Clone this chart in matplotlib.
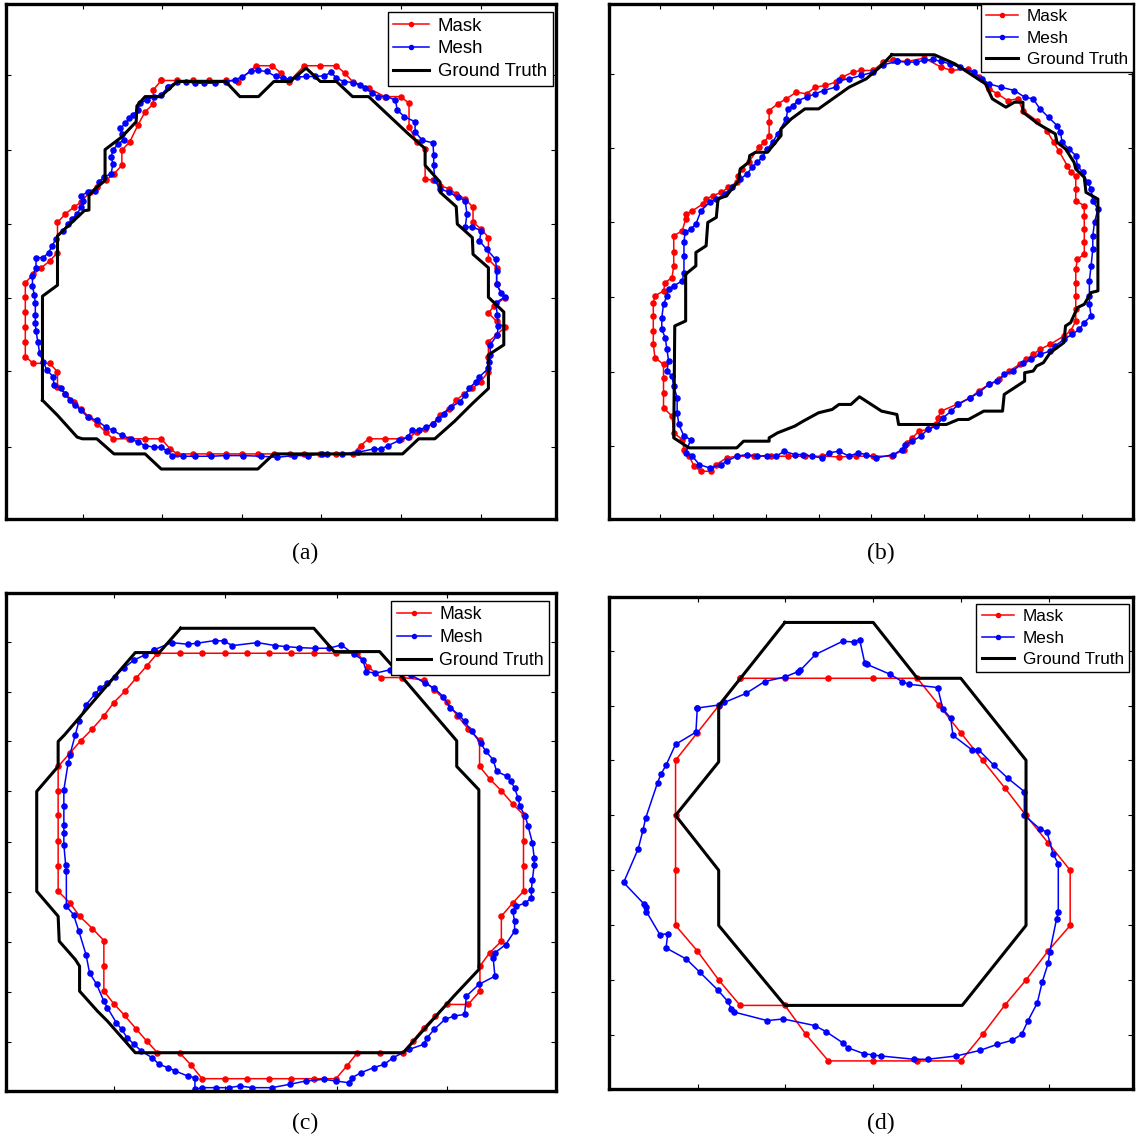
import matplotlib
matplotlib.use("Agg")
import matplotlib.pyplot as plt

# contour points (image units of each panel, y down)
a_mask = [(450,242),(495,242),(540,242),(585,242),(630,242),(665,245),(715,198),(760,198),(785,220),
          (808,245),(850,198),(895,198),(940,198),(963,220),(985,245),(1030,265),(1075,290),(1120,290),
          (1143,310),(1143,380),(1165,425),(1188,445),(1188,535),(1210,540),(1230,555),(1255,565),
          (1275,580),(1300,595),(1322,620),(1322,665),(1345,685),(1365,710),(1365,775),(1388,800),
          (1388,850),(1410,890),(1380,915),(1365,935),(1388,960),(1410,978),(1388,1000),(1365,1020),
          (1365,1065),(1365,1110),(1343,1140),(1320,1160),(1298,1175),(1275,1195),(1255,1220),
          (1230,1240),(1210,1265),(1188,1280),(1165,1290),(1143,1305),(1120,1310),(1075,1310),
          (1030,1310),(1008,1330),(985,1355),(940,1355),(895,1355),(850,1355),(810,1355),(765,1355),
          (720,1355),(675,1355),(630,1355),(585,1355),(540,1355),(495,1355),(475,1340),(450,1310),
          (405,1310),(360,1310),(315,1310),(295,1290),(270,1265),(248,1245),(225,1220),(205,1200),
          (182,1175),(160,1155),(160,1110),(138,1085),(92,1085),(70,1065),(70,1020),(70,978),(70,933),
          (70,888),(70,845),(92,820),(115,800),(138,780),(160,755),(160,665),(182,640),(205,620),
          (225,605),(250,575),(270,560),(295,540),(318,520),(340,495),(340,450),(362,425),(385,375),
          (405,335),(428,312),(428,270)]
a_mesh = [(470,260),(495,245),(520,245),(545,250),(570,250),(600,250),(630,245),(655,240),(675,232),
          (700,215),(720,212),(745,215),(770,230),(790,235),(810,238),(830,232),(855,230),(880,230),
          (905,228),(925,218),(940,235),(960,245),(985,248),(1005,255),(1020,265),(1040,278),(1055,290),
          (1080,290),(1105,300),(1110,330),(1130,350),(1160,365),(1160,395),(1180,420),(1210,428),
          (1212,465),(1212,495),(1215,540),(1230,565),(1255,575),(1280,590),(1300,600),(1305,640),
          (1300,680),(1320,678),(1345,690),(1340,720),(1360,745),(1385,775),(1388,810),(1388,850),
          (1400,875),(1410,888),(1385,905),(1390,940),(1392,975),(1390,1000),(1370,1030),(1370,1060),
          (1368,1080),(1365,1100),(1340,1125),(1330,1140),(1310,1160),(1300,1180),(1285,1200),
          (1260,1215),(1240,1235),(1225,1250),(1210,1265),(1190,1275),(1170,1285),(1150,1285),
          (1140,1305),(1115,1315),(1085,1330),(1065,1340),(1045,1340),(1000,1350),(955,1355),
          (915,1355),(900,1355),(860,1360),(820,1360),(775,1365),(730,1362),(680,1360),(630,1360),
          (590,1362),(545,1362),(510,1362),(480,1360),(465,1345),(450,1335),(430,1335),(405,1330),
          (385,1320),(365,1310),(340,1300),(315,1285),(295,1275),(270,1255),(245,1245),(225,1225),
          (210,1210),(195,1195),(180,1175),(170,1160),(150,1150),(148,1125),(130,1105),(120,1080),
          (110,1055),(105,1020),(100,990),(98,965),(98,940),(98,905),(95,880),(90,855),(90,825),
          (100,800),(100,770),(120,770),(135,755),(145,735),(155,715),(175,690),(190,670),(200,655),
          (215,640),(225,620),(230,600),(225,585),(245,575),(265,570),(275,545),(290,530),(310,520),
          (315,490),(310,470),(315,450),(330,430),(345,420),(340,400),(335,385),(350,370),(360,355),
          (370,345),(385,330),(390,310),(410,300),(430,290),(450,285)]
a_truth = [(118,1195),(118,885),(160,852),(160,705),(205,660),(235,630),(248,628),(248,585),(265,565),
           (293,540),(293,448),(340,410),(380,365),(382,318),(405,290),(448,290),(495,245),(630,245),
           (670,290),(722,290),(765,245),(810,245),(855,205),(895,245),(940,245),(985,290),(1030,290),
           (1075,335),(1140,400),(1188,445),(1188,495),(1230,545),(1230,575),(1275,618),(1278,670),
           (1320,710),(1322,760),(1365,800),(1365,888),(1408,932),(1408,1030),(1365,1060),(1365,1160),
           (1320,1205),(1270,1258),(1215,1310),(1170,1310),(1125,1355),(765,1355),(720,1400),
           (450,1400),(405,1355),(318,1355),(270,1310),(230,1310),(215,1305),(160,1240)]

b_mask = [(860,175),(900,178),(950,168),(1000,195),(1030,205),(1080,200),(1110,225),(1140,260),
          (1165,275),(1195,295),(1225,290),(1240,325),(1280,355),(1310,385),(1330,420),(1345,445),
          (1370,490),(1380,510),(1395,520),(1395,560),(1395,595),(1420,610),(1420,640),(1420,680),
          (1420,720),(1420,755),(1400,770),(1395,800),(1395,840),(1395,880),(1395,920),(1395,955),
          (1380,985),(1360,1000),(1320,1025),(1290,1040),(1270,1055),(1250,1070),(1230,1085),
          (1200,1105),(1170,1130),(1140,1145),(1110,1165),(1085,1185),(1045,1205),(1000,1225),
          (990,1245),(985,1265),(960,1280),(935,1285),(915,1305),(900,1320),(890,1340),(855,1360),
          (800,1360),(750,1360),(700,1362),(650,1360),(600,1360),(550,1360),(500,1360),(450,1360),
          (400,1360),(370,1365),(340,1385),(325,1405),(295,1405),(275,1390),(260,1360),(245,1340),
          (240,1310),(215,1290),(210,1240),(185,1215),(185,1170),(185,1125),(185,1085),(160,1065),
          (155,1025),(155,985),(155,940),(155,900),(160,880),(185,865),(190,840),(210,825),(215,790),
          (215,750),(215,700),(240,685),(250,650),(250,635),(270,625),(300,605),(310,590),(330,580),
          (355,570),(375,555),(400,540),(405,520),(415,500),(435,480),(465,435),(480,420),(495,400),
          (495,360),(495,325),(520,305),(545,290),(575,270),(605,275),(630,255),(660,250),(690,240),
          (710,225),(740,210),(765,205),(800,205),(830,180)]
b_mesh = [(870,178),(900,180),(925,180),(950,175),(975,172),(1000,178),(1025,185),(1055,195),
          (1095,210),(1120,230),(1140,245),(1175,255),(1215,265),(1245,285),(1270,290),(1290,320),
          (1315,345),(1340,370),(1350,390),(1355,420),(1375,440),(1395,460),(1400,490),(1415,510),
          (1430,540),(1440,560),(1445,595),(1460,620),(1450,660),(1445,700),(1445,740),(1440,790),
          (1435,835),(1435,880),(1435,905),(1440,940),(1420,960),(1405,980),(1385,995),(1360,1010),
          (1335,1030),(1320,1045),(1290,1055),(1265,1070),(1240,1080),(1210,1105),(1185,1115),
          (1165,1135),(1140,1145),(1110,1170),(1085,1185),(1050,1205),(1030,1225),(1005,1245),
          (985,1270),(960,1280),(940,1300),(915,1315),(895,1325),(885,1340),(860,1355),(810,1365),
          (780,1355),(755,1350),(730,1360),(700,1345),(670,1350),(650,1365),(620,1360),(595,1355),
          (570,1355),(540,1345),(515,1360),(490,1358),(460,1360),(430,1355),(400,1360),(370,1375),
          (355,1385),(320,1395),(290,1385),(270,1360),(250,1350),(265,1310),(245,1300),(230,1265),
          (225,1230),(225,1185),(215,1150),(210,1120),(195,1105),(200,1075),(195,1040),(190,1005),
          (180,980),(180,945),(185,905),(195,880),(200,860),(215,850),(240,835),(245,810),(245,760),
          (245,720),(248,690),(265,680),(280,665),(295,625),(320,600),(340,590),(365,575),(385,555),
          (410,530),(430,515),(445,495),(460,480),(475,465),(490,440),(505,420),(520,395),(545,350),
          (550,320),(565,310),(580,295),(605,285),(630,275),(655,265),(690,255),(700,235),(730,230),
          (765,220),(800,210),(830,188)]
b_truth = [(855,158),(980,158),(1040,185),(1130,245),(1150,290),(1190,315),(1215,300),(1240,300),
           (1240,330),(1285,365),(1335,395),(1340,420),(1365,440),(1390,480),(1395,500),(1420,525),
           (1425,570),(1460,590),(1460,865),(1440,870),(1420,905),(1400,915),(1380,960),(1365,970),
           (1360,1020),(1320,1050),(1300,1080),(1280,1090),(1270,1105),(1245,1110),(1245,1135),
           (1185,1175),(1180,1225),(1125,1225),(1080,1250),(1050,1250),(1015,1265),(875,1265),
           (870,1235),(825,1225),(760,1182),(735,1205),(700,1205),(680,1220),(640,1230),(595,1255),
           (570,1270),(520,1290),(495,1305),(495,1315),(420,1315),(400,1335),(260,1335),(215,1305),
           (218,970),(250,955),(250,815),(280,790),(280,750),(310,730),(315,660),(340,645),(345,590),
           (370,580),(405,535),(410,500),(435,480),(438,460),(455,450),(490,450),(530,400),(530,380),
           (560,350),(600,320),(640,320),(730,255),(780,230),(820,195)]

c_mask = [(440,195),(502,195),(565,195),(628,195),(690,195),(752,195),(815,195),(878,195),(940,195),
          (1000,195),(1030,235),(1065,268),(1125,268),(1185,275),(1215,305),(1250,340),(1280,383),
          (1310,422),(1342,455),(1342,535),(1370,572),(1403,608),(1435,648),(1465,680),(1465,760),
          (1465,833),(1465,910),(1435,945),(1403,985),(1403,1060),(1370,1095),(1343,1135),(1343,1210),
          (1310,1250),(1250,1250),(1218,1285),(1185,1320),(1155,1360),(1128,1395),(1062,1395),
          (1000,1395),(970,1435),(940,1473),(878,1473),(815,1473),(752,1473),(690,1473),(628,1473),
          (565,1473),(535,1433),(502,1395),(440,1395),(410,1360),(380,1323),(348,1283),(318,1248),
          (290,1210),(290,1135),(290,1058),(258,1022),(222,985),(195,945),(162,910),(162,833),
          (162,760),(162,682),(162,608),(162,535),(195,495),(225,458),(258,422),(290,383),(318,343),
          (350,308),(380,270),(410,233)]
c_mesh = [(430,185),(480,163),(525,168),(550,165),(600,157),(625,158),(650,172),(720,163),(770,172),
          (800,175),(835,178),(880,180),(920,180),(955,170),(990,198),(1015,215),(1025,250),
          (1050,255),(1090,245),(1110,245),(1150,260),(1190,285),(1215,300),(1240,325),(1260,360),
          (1285,380),(1300,400),(1320,430),(1345,465),(1360,490),(1380,515),(1390,550),(1420,565),
          (1430,580),(1440,600),(1450,630),(1455,655),(1470,685),(1478,715),(1490,765),(1495,810),
          (1495,830),(1490,875),(1487,905),(1487,930),(1470,945),(1445,955),(1435,970),(1440,1000),
          (1440,1030),(1415,1070),(1385,1095),(1380,1110),(1385,1165),(1340,1190),(1305,1225),
          (1300,1280),(1270,1285),(1245,1295),(1215,1325),(1195,1350),(1185,1370),(1145,1385),
          (1100,1410),(1075,1430),(1045,1440),(1010,1455),(985,1470),(975,1485),(940,1480),(905,1475),
          (855,1480),(810,1490),(760,1500),(705,1500),(670,1495),(640,1500),(605,1500),(565,1500),
          (545,1505),(545,1470),(525,1465),(490,1450),(470,1440),(445,1430),(425,1410),(395,1390),
          (375,1370),(355,1350),(340,1325),(325,1305),(300,1260),(290,1240),(270,1190),(250,1155),
          (240,1100),(220,1030),(205,980),(185,955),(185,850),(183,830),(178,770),(178,735),(178,710),
          (178,655),(178,605),(190,525),(195,500),(210,440),(220,400),(240,350),(265,318),(280,300),
          (300,285),(320,265),(345,240),(375,215),(405,200)]
c_truth = [(505,120),(878,120),(935,190),(1062,190),(1120,260),(1278,458),(1278,535),(1340,605),
           (1340,1145),(1270,1225),(1128,1395),(378,1395),(300,1300),(272,1270),(222,1210),(222,1135),
           (210,1115),(165,1060),(162,985),(102,910),(102,610),(162,535),(162,460),(180,440),(378,193),
           (445,193)]

d_mask = [(408,262),(540,262),(668,262),(800,262),(930,262),(993,343),(1058,427),(1122,510),
          (1187,593),(1250,677),(1315,760),(1380,843),(1380,1010),(1315,1087),(1250,1175),(1187,1252),
          (1122,1340),(1058,1420),(928,1420),(800,1420),(668,1420),(602,1340),(540,1252),(408,1252),
          (345,1175),(282,1087),(218,1010),(218,843),(218,677),(218,510),(282,427),(345,345)]
d_mesh = [(282,352),(345,343),(362,335),(425,308),(480,272),(540,258),(578,242),(585,238),(630,190),
          (710,150),(742,152),(760,145),(775,215),(782,220),(850,250),(885,272),(905,280),(990,290),
          (1005,355),(1028,382),(1035,435),(1090,478),(1110,478),(1155,525),(1197,565),(1245,605),
          (1245,677),(1290,717),(1312,728),(1330,795),(1345,823),(1345,970),(1340,990),(1320,1090),
          (1315,1125),(1298,1180),(1283,1245),(1255,1300),(1237,1340),(1208,1358),(1165,1370),
          (1115,1388),(1045,1405),(960,1415),(920,1415),(822,1405),(800,1402),(772,1398),(725,1380),
          (710,1365),(662,1332),(628,1313),(535,1293),(488,1298),(390,1272),(382,1262),(372,1240),
          (342,1205),(290,1152),(250,1112),(190,1078),(195,1035),(172,1038),(132,968),(130,955),
          (125,945),(65,880),(108,778),(122,722),(130,685),(165,578),(175,552),(190,525),(218,462),
          (278,425)]
d_truth = [(540,93),(800,93),(930,262),(1058,262),(1250,510),(1250,1010),(1062,1252),(540,1252),
           (345,1010),(345,843),(218,677),(345,515),(345,345)]

labels = ["Mask", "Mesh", "Ground Truth"]
panel_names = ["(a)", "(b)", "(c)", "(d)"]

# frame edges of each panel in the same units: left, right, top, bottom
frames = [(16, 1554, 14, 1549), (25, 1563, 6, 1548), (16, 1556, 14, 1510), (22, 1565, 16, 1505)]
xticks = [[230, 452, 676, 897, 1120, 1343],
          [175, 330, 485, 640, 795, 950, 1105, 1258, 1413],
          [318, 630, 942, 1252],
          [283, 540, 800, 1058, 1317]]
yticks = [[225, 449, 669, 890, 1108, 1333],
          [215, 438, 660, 883, 1107, 1330],
          [160, 310, 460, 610, 762, 912, 1062, 1212, 1362],
          [178, 345, 510, 677, 843, 1010, 1175, 1342]]

# axes boxes in figure pixels: left, right, top, bottom
W, H = 1136, 1141
boxes = [(6, 556, 4, 519), (609, 1133, 4, 519), (6, 556, 593, 1091), (609, 1133, 597, 1089)]
label_pos = [(305, 553), (881, 553), (305, 1123), (881, 1123)]
leg_anchor = [(0.994, 0.984), (1.0, 1.0), (0.988, 0.984), (0.992, 0.986)]
leg_size = [13.4, 12.3, 12.8, 12.3]
leg_space = [0.30, 0.38, 0.34, 0.38]

panels = [(a_mask, a_mesh, a_truth), (b_mask, b_mesh, b_truth),
          (c_mask, c_mesh, c_truth), (d_mask, d_mesh, d_truth)]


def closed(pts):
    xs = [p[0] for p in pts] + [pts[0][0]]
    ys = [p[1] for p in pts] + [pts[0][1]]
    return xs, ys


fig = plt.figure(figsize=(W / 100, H / 100), dpi=100)

for i, (mask, mesh, truth) in enumerate(panels):
    l, r, t, b = boxes[i]
    ax = fig.add_axes([l / W, 1 - b / H, (r - l) / W, (b - t) / H])
    x, y = closed(mask)
    ax.plot(x, y, color='red', lw=1.1, marker='o', ms=3.7, label=labels[0])
    x, y = closed(mesh)
    ax.plot(x, y, color='blue', lw=1.1, marker='o', ms=3.7, label=labels[1])
    x, y = closed(truth)
    ax.plot(x, y, color='black', lw=2.2, label=labels[2])

    fl, fr, ft, fb = frames[i]
    ax.set_xlim(fl, fr)
    ax.set_ylim(fb, ft)
    ax.set_xticks(xticks[i])
    ax.set_yticks(yticks[i])
    ax.tick_params(direction='in', length=3.5, width=0.8, top=True, right=True,
                   labelbottom=False, labelleft=False)
    for s in ax.spines.values():
        s.set_linewidth(2.4)

    leg = ax.legend(loc='upper right', bbox_to_anchor=leg_anchor[i], borderaxespad=0,
                    fancybox=False, framealpha=1, edgecolor='black',
                    prop={'family': 'Liberation Sans', 'size': leg_size[i]},
                    handlelength=1.9, handletextpad=0.5, labelspacing=leg_space[i],
                    borderpad=0.3, markerscale=0.8)
    leg.get_frame().set_linewidth(1.0)

    fig.text(label_pos[i][0] / W, 1 - label_pos[i][1] / H, panel_names[i],
             ha='center', va='center', fontsize=17, family='Liberation Serif')

fig.savefig('out.png', dpi=100)
